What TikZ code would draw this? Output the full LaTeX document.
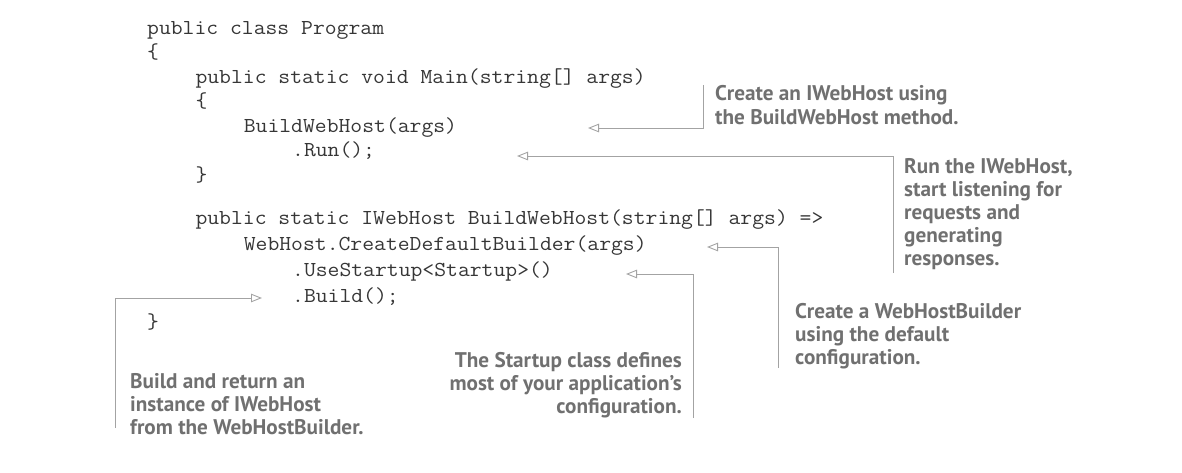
\documentclass[tikz,border=0pt]{standalone}
\usepackage{fontspec}
\usetikzlibrary{arrows.meta}
\newfontfamily\codefont[FakeStretch=1.08]{Latin Modern Mono}
\newfontfamily\annfont{PT Sans}
\definecolor{codecol}{HTML}{363636}
\definecolor{anncol}{HTML}{707070}
\definecolor{linecol}{HTML}{A3A3A3}
\tikzset{
  codeline/.style={anchor=base west, inner sep=0pt, text=codecol, font=\codefont\fontsize{21.3}{24.5}\selectfont},
  annot/.style={anchor=base west, inner sep=0pt, text=anncol, align=left, font=\annfont\bfseries\fontsize{21.2}{23.2}\selectfont},
  annotr/.style={annot, anchor=base east, align=right},
  callout/.style={draw=linecol, line width=0.9pt, -{Triangle[open, length=11pt, width=8.5pt, line width=0.9pt]}}
}
\begin{document}
\begin{tikzpicture}[x=1pt,y=-1pt]
\useasboundingbox (0,0) rectangle (1182,473);
% code lines
\def\cw{12.08}
\def\xo{147}
\node[codeline] (l1)  at (\xo,34.5)           {public class Program};
\node[codeline] (l2)  at (\xo,59)             {\{};
\node[codeline] (l3)  at (\xo+4*\cw,83.5)     {public static void Main(string[] args)};
\node[codeline] (l4)  at (\xo+4*\cw,108)      {\{};
\node[codeline] (l5)  at (\xo+8*\cw,132.5)    {BuildWebHost(args)};
\node[codeline] (l6)  at (\xo+12*\cw,157)     {.Run();};
\node[codeline] (l7)  at (\xo+4*\cw,181.5)    {\}};
\node[codeline] (l9)  at (\xo+4*\cw,224.5)    {public static IWebHost BuildWebHost(string[] args) =>};
\node[codeline] (l10) at (\xo+8*\cw,250)      {WebHost.CreateDefaultBuilder(args)};
\node[codeline] (l11) at (\xo+12*\cw,276)     {.UseStartup<Startup>()};
\node[codeline] (l12) at (\xo+12*\cw,302)     {.Build();};
\node[codeline] (l13) at (\xo,328)            {\}};
% annotations (anchor = baseline of last line)
\node[annot] (a1) at (715,124.2) {Create an IWebHost using\\the BuildWebHost method.};
\node[annot] (a2) at (904,265.8) {Run the IWebHost,\\start listening for\\requests and\\generating\\responses.};
\node[annot] (a3) at (795,364.4) {Create a WebHostBuilder\\using the default\\configuration.};
\node[annotr] (a4) at (682,413.4) {The Startup class defines\\most of your application’s\\configuration.};
\node[annot] (a5) at (130,434.4) {Build and return an\\instance of IWebHost\\from the WebHostBuilder.};
% connector points
\coordinate (s1) at (703,85);   \coordinate (k1) at (703,128); \coordinate (t1) at (588,128);
\coordinate (s2) at (893,273);  \coordinate (k2) at (893,156); \coordinate (t2) at (517,156);
\coordinate (s3) at (778,368);  \coordinate (k3) at (778,247); \coordinate (t3) at (707,247);
\coordinate (s4) at (693,418);  \coordinate (k4) at (693,274); \coordinate (t4) at (626,274);
\coordinate (s5) at (115,428);  \coordinate (k5) at (115,298); \coordinate (t5) at (262,298);
\draw[callout] (s1) -- (k1) -- (t1);
\draw[callout] (s2) -- (k2) -- (t2);
\draw[callout] (s3) -- (k3) -- (t3);
\draw[callout] (s4) -- (k4) -- (t4);
\draw[callout] (s5) -- (k5) -- (t5);
\end{tikzpicture}
\end{document}
